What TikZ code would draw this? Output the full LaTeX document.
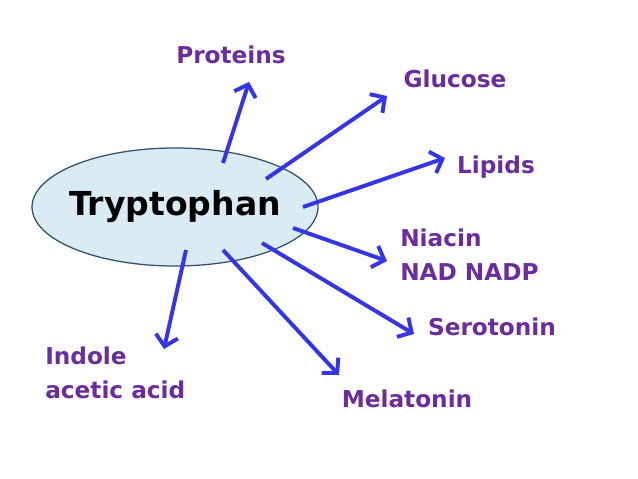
\documentclass[tikz,border=0pt]{standalone}
\usepackage{fontspec}
\setmainfont{DejaVu Sans}
\usetikzlibrary{arrows.meta}
\definecolor{arrowblue}{RGB}{52,52,232}
\definecolor{labelpurple}{RGB}{106,44,158}
\definecolor{ellfill}{RGB}{219,235,243}
\definecolor{elldraw}{RGB}{52,80,108}

\begin{document}
\begin{tikzpicture}[x=0.025cm,y=-0.025cm]
					\useasboundingbox (0,0) rectangle (638,479);
					\draw[elldraw,fill=ellfill,line width=0.9pt] (175,207) ellipse [x radius=143,y radius=59];
					\path (175,207) node[inner sep=0pt,font=\fontsize{23.5}{28}\selectfont\bfseries] (trp) {Tryptophan};
					\tikzstyle{every node}=[text=labelpurple,inner sep=0pt,font=\fontsize{16.5}{24}\selectfont\bfseries];
					\tikzstyle{conv}=[draw=arrowblue,line width=2.8pt,-{Straight Barb[length=7.5pt,width=16pt]}];
						\path (231,64) node[anchor=base] (prot) {Proteins};
						\path (455,88) node[anchor=base] (gluc) {Glucose};
						\path (496,173) node[anchor=base] (lip) {Lipids};
						\path (400,229) node[anchor=north west,align=left] (nia) {Niacin\\NAD NADP};
						\path (492,335) node[anchor=base] (sero) {Serotonin};
						\path (407,407) node[anchor=base] (mela) {Melatonin};
						\path (45,347) node[anchor=north west,align=left] (ind) {Indole\\acetic acid};
						\coordinate (s1) at (223,163);
						\coordinate (e1) at (249,82);
						\coordinate (s2) at (266,179);
						\coordinate (e2) at (387,96);
						\coordinate (s3) at (303,207);
						\coordinate (e3) at (445,158);
						\coordinate (s4) at (293,228);
						\coordinate (e4) at (387,261);
						\coordinate (s5) at (262,243);
						\coordinate (e5) at (414,334);
						\coordinate (s6) at (223,250);
						\coordinate (e6) at (339,375);
						\coordinate (s7) at (186,250);
						\coordinate (e7) at (164,349);
						\draw[conv] (s1) -- (e1);
						\draw[conv] (s2) -- (e2);
						\draw[conv] (s3) -- (e3);
						\draw[conv] (s4) -- (e4);
						\draw[conv] (s5) -- (e5);
						\draw[conv] (s6) -- (e6);
						\draw[conv] (s7) -- (e7);
\end{tikzpicture}
\end{document}
